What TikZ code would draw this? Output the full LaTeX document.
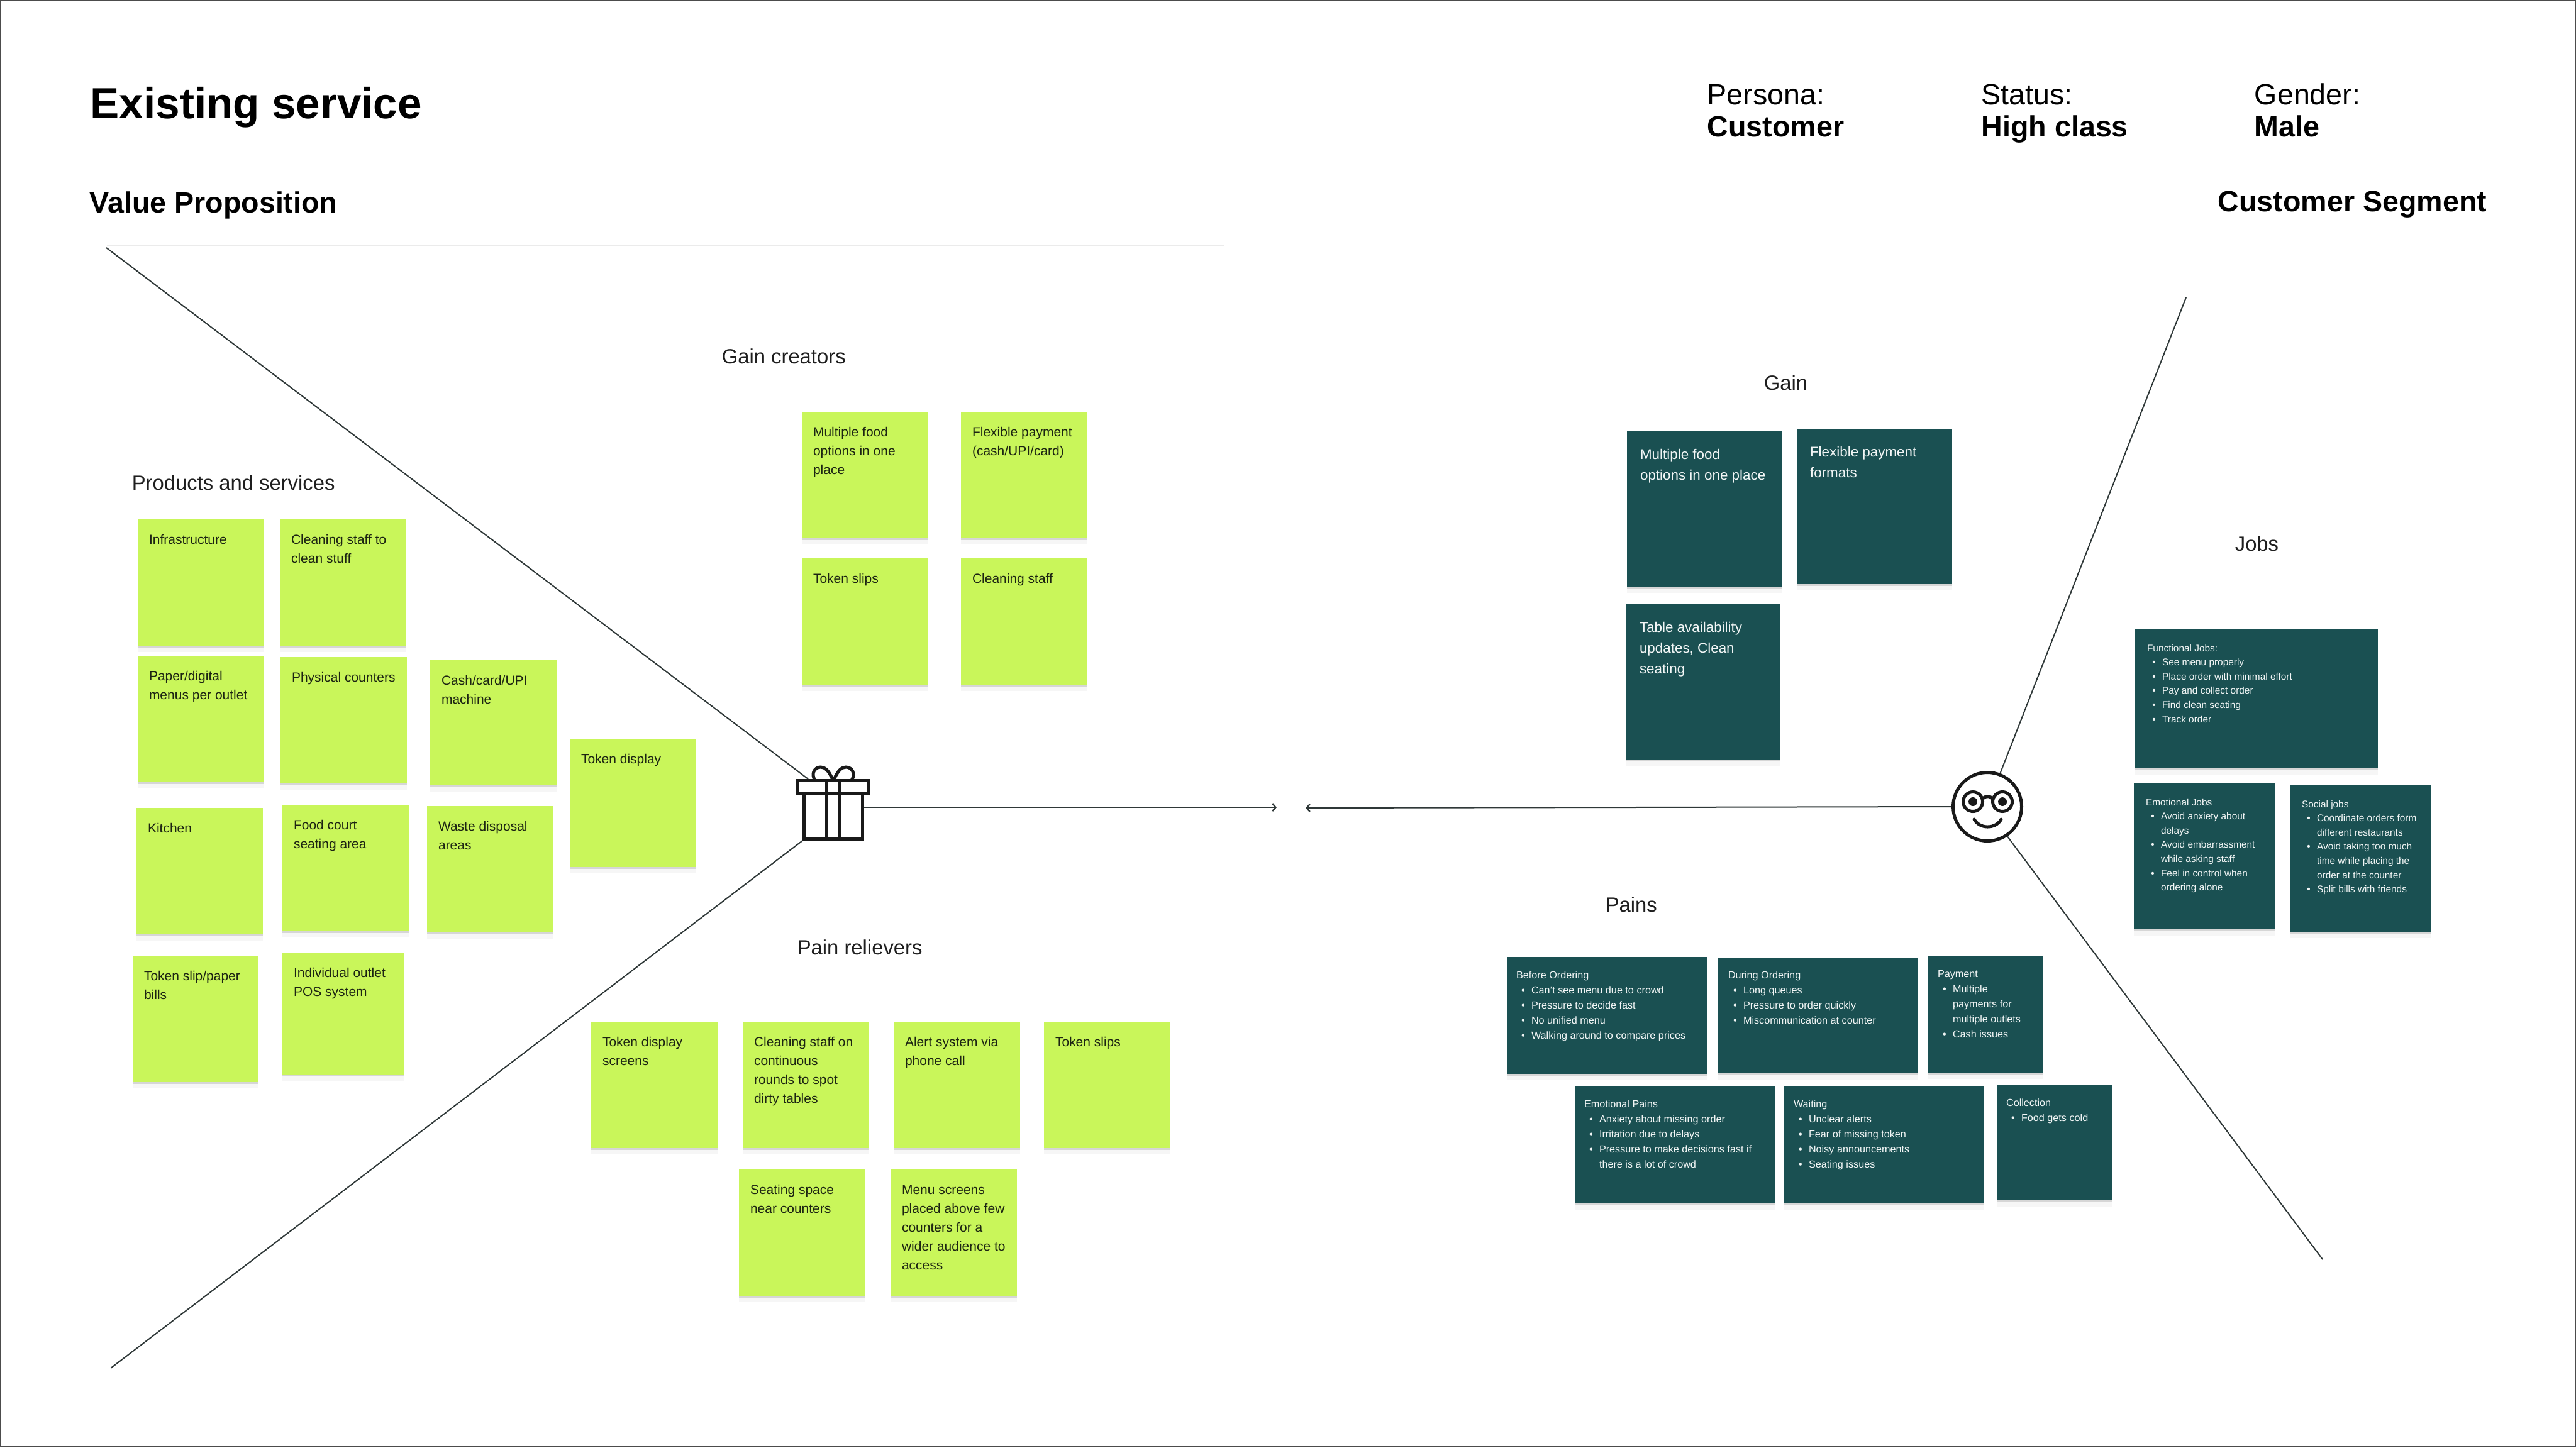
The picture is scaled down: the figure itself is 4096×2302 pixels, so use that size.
\documentclass[tikz,border=0pt]{standalone}
\usepackage{fontspec}
\setmainfont{Liberation Sans}
\usetikzlibrary{arrows.meta,shadows}
\definecolor{lime}{HTML}{C9F65A}
\definecolor{teal}{HTML}{1A5052}
\definecolor{inkdark}{HTML}{1E1E1E}
\definecolor{inkgreen}{HTML}{1C2412}
\definecolor{inklight}{HTML}{F2F6F6}
\definecolor{rule}{HTML}{2F3838}
\newcommand\lineT[1]{\hbox{#1}}
\newcommand\lineB[1]{\hbox{\kern2.75pt\hbox to 0pt{\hss\textbullet\hss}\kern3.25pt #1}}
\newcommand\lineC[1]{\hbox{\kern6pt #1}}
\newcommand\fGreen{\fontsize{5.25}{7.5}\selectfont\color{inkgreen}}
\newcommand\fGain{\fontsize{5.6}{8.25}\selectfont\color{inklight}}
\newcommand\fJobs{\fontsize{3.85}{5.66}\selectfont\color{inklight}}
\newcommand\fPain{\fontsize{4.05}{6.05}\selectfont\color{inklight}}
% style, name, x, y, w, h, dx, dy, font (then \cardBody holds the lines)
\newcommand\cardNote[9]{%
  \node[#1,minimum width=#5*0.25pt,minimum height=#6*0.25pt] (#2) at (#3,#4) {};
  \node[cardtext] (#2t) at ([shift={(#7,#8)}]#2.north west) {#9\vtop{\lineskiplimit=-100pt \cardBody}};
}
\newcommand\green[6]{\def\cardBody{#6}\cardNote{limecard}{#1}{#2}{#3}{#4}{#5}{18}{39}{\fGreen}}
\newcommand\tealcard[9]{\def\cardBody{#9}\cardNote{tealbox}{#1}{#2}{#3}{#4}{#5}{#6}{#7}{#8}}
\tikzset{
  cardbase/.style={rectangle,inner sep=0pt,outer sep=0pt,anchor=north west,
    general shadow={fill=black,opacity=.035,shadow yshift=-2.4pt},
    general shadow={fill=black,opacity=.13,shadow yshift=-.7pt}},
  limecard/.style={cardbase,fill=lime},
  tealbox/.style={cardbase,fill=teal},
  cardtext/.style={anchor=base west,inner sep=0pt,outer sep=0pt},
  heading/.style={anchor=base west,inner sep=0pt,font=\fontsize{11.65}{14}\selectfont\bfseries,text=black},
  plainhead/.style={anchor=base west,inner sep=0pt,font=\fontsize{11.65}{14}\selectfont,text=black},
  section/.style={anchor=base west,inner sep=0pt,font=\fontsize{8.2}{10}\selectfont,text=inkdark},
  wire/.style={draw=rule,line width=.5pt},
  arrowwire/.style={wire,-{Straight Barb[length=1.3pt,width=3pt,line width=.6pt]}},
  icon/.style={draw=black!90,line width=1.25pt,fill=none}
}
\begin{document}
\begin{tikzpicture}[x=0.25pt,y=-0.25pt]
\useasboundingbox (0,0) rectangle (4096,2302);
\draw[draw=black!70,line width=.5pt] (1,1) rectangle (4095,2301);

% titles
\node[anchor=base west,inner sep=0pt,font=\fontsize{17.3}{20}\selectfont\bfseries] (title) at (143,188) {Existing service};
\node[heading] (vp) at (142,338) {Value Proposition};
\node[heading] (cs) at (3526,336) {Customer Segment};
\node[plainhead] (pa) at (2714,166) {Persona:};
\node[heading] (pb) at (2714,217) {Customer};
\node[plainhead] (sa) at (3150,166) {Status:};
\node[heading] (sb) at (3150,217) {High class};
\node[plainhead] (ga) at (3584,166) {Gender:};
\node[heading] (gb) at (3584,217) {Male};

% section labels
\node[section] (lps) at (209,779) {Products and services};
\node[section] (lgc) at (1147,578) {Gain creators};
\node[section] (lpr) at (1267,1518) {Pain relievers};
\node[section] (lgain) at (2804,620) {Gain};
\node[section] (ljobs) at (3553,876) {Jobs};
\node[section] (lpains) at (2552,1450) {Pains};

% hubs
\node[rectangle,inner sep=0pt,outer sep=0pt,minimum width=24.5pt,minimum height=24.5pt] (gift) at (1325,1288) {};
\node[circle,icon,inner sep=0pt,minimum size=27.25pt] (face) at (3160,1283) {};

% free ends
\coordinate (vpTop) at (169,394);
\coordinate (vpBottom) at (176,2176);
\coordinate (vpRuleA) at (170,391);
\coordinate (vpRuleB) at (1946,391);
\coordinate (csTop) at (3476,473);
\coordinate (csBottom) at (3693,2003);
\coordinate (tipR) at (2030,1284);
\coordinate (tipL) at (2076,1285);

% connectors
\draw[draw=black!8,line width=.4pt] (vpRuleA) -- (vpRuleB);
\draw[wire] (vpTop) -- ([xshift=2.25pt]gift.north west);
\draw[wire] (vpBottom) -- (gift.south west);
\draw[arrowwire] ([yshift=1pt]gift.east) -- (tipR);
\draw[arrowwire] (face.west) -- (tipL);
\draw[wire] (face.69) -- (csTop);
\draw[wire] (face.-56) -- (csBottom);

% gift icon
\draw[icon] (1278.5,1261.5) -- (1278.5,1334.5) -- (1371.5,1334.5) -- (1371.5,1261.5);
\draw[icon] (1267.5,1241.5) rectangle (1381.5,1261.5);
\draw[icon] (1314,1241.5) -- (1314,1334.5);
\draw[icon] (1335.5,1241.5) -- (1335.5,1334.5);
\draw[icon] (1324,1240) .. controls (1318,1226) and (1312,1220) .. (1305,1220) .. controls (1295,1220) and (1289,1231) .. (1296,1241);
\draw[icon] (1326,1240) .. controls (1332,1226) and (1338,1220) .. (1345,1220) .. controls (1355,1220) and (1361,1231) .. (1354,1241);

% face icon
\draw[icon] (3137,1275) circle (15.5);
\draw[icon] (3184,1275) circle (15.5);
\fill[black!90] (3137,1275) circle (7);
\fill[black!90] (3184,1275) circle (7);
\draw[icon] (3152,1272) .. controls (3154,1265) and (3167,1265) .. (3169,1272);
\draw[icon,line cap=round] (3139,1303) .. controls (3148,1319) and (3173,1319) .. (3182,1303);

% products and services
\green{p1}{219}{826}{201}{201}{\lineT{Infrastructure}}
\green{p2}{445}{826}{201}{201}{\lineT{Cleaning staff to}\lineT{clean stuff}}
\green{p3}{219}{1043}{201}{201}{\lineT{Paper/digital}\lineT{menus per outlet}}
\green{p4}{446}{1045}{201}{201}{\lineT{Physical counters}}
\green{p5}{684}{1050}{201}{199}{\lineT{Cash/card/UPI}\lineT{machine}}
\green{p6}{906}{1175}{201}{204}{\lineT{Token display}}
\green{p7}{217}{1285}{201}{201}{\lineT{Kitchen}}
\green{p8}{449}{1280}{201}{201}{\lineT{Food court}\lineT{seating area}}
\green{p9}{679}{1282}{201}{201}{\lineT{Waste disposal}\lineT{areas}}
\green{p10}{211}{1520}{200}{201}{\lineT{Token slip/paper}\lineT{bills}}
\green{p11}{449}{1515}{194}{194}{\lineT{Individual outlet}\lineT{POS system}}

% gain creators
\green{g1}{1275}{655}{201}{201}{\lineT{Multiple food}\lineT{options in one}\lineT{place}}
\green{g2}{1528}{655}{201}{201}{\lineT{Flexible payment}\lineT{(cash/UPI/card)}}
\green{g3}{1275}{888}{201}{201}{\lineT{Token slips}}
\green{g4}{1528}{888}{201}{201}{\lineT{Cleaning staff}}

% pain relievers
\green{r1}{940}{1625}{201}{201}{\lineT{Token display}\lineT{screens}}
\green{r2}{1181}{1625}{201}{201}{\lineT{Cleaning staff on}\lineT{continuous}\lineT{rounds to spot}\lineT{dirty tables}}
\green{r3}{1421}{1625}{201}{201}{\lineT{Alert system via}\lineT{phone call}}
\green{r4}{1660}{1625}{201}{201}{\lineT{Token slips}}
\green{r5}{1175}{1860}{201}{201}{\lineT{Seating space}\lineT{near counters}}
\green{r6}{1416}{1860}{201}{201}{\lineT{Menu screens}\lineT{placed above few}\lineT{counters for a}\lineT{wider audience to}\lineT{access}}

% gain
\tealcard{d1}{2587}{686}{247}{247}{21}{44}{\fGain}{\lineT{Multiple food}\lineT{options in one place}}
\tealcard{d2}{2857}{682}{247}{247}{21}{44}{\fGain}{\lineT{Flexible payment}\lineT{formats}}
\tealcard{d3}{2586}{961}{245}{247}{21}{44}{\fGain}{\lineT{Table availability}\lineT{updates, Clean}\lineT{seating}}

% jobs
\tealcard{j1}{3395}{1000}{386}{222}{19}{36}{\fJobs}{\lineT{Functional Jobs:}\lineB{See menu properly}\lineB{Place order with minimal effort}\lineB{Pay and collect order}\lineB{Find clean seating}\lineB{Track order}}
\tealcard{j2}{3393}{1245}{224}{233}{19}{36}{\fJobs}{\lineT{Emotional Jobs}\lineB{Avoid anxiety about}\lineC{delays}\lineB{Avoid embarrassment}\lineC{while asking staff}\lineB{Feel in control when}\lineC{ordering alone}}
\tealcard{j3}{3642}{1248}{223}{234}{18}{36}{\fJobs}{\lineT{Social jobs}\lineB{Coordinate orders form}\lineC{different restaurants}\lineB{Avoid taking too much}\lineC{time while placing the}\lineC{order at the counter}\lineB{Split bills with friends}}

% pains
\tealcard{k1}{2396}{1522}{319}{186}{15}{34}{\fPain}{\lineT{Before Ordering}\lineB{Can't see menu due to crowd}\lineB{Pressure to decide fast}\lineB{No unified menu}\lineB{Walking around to compare prices}}
\tealcard{k2}{2732}{1523}{318}{184}{16}{33}{\fPain}{\lineT{During Ordering}\lineB{Long queues}\lineB{Pressure to order quickly}\lineB{Miscommunication at counter}}
\tealcard{k3}{3066}{1520}{183}{186}{15}{34}{\fPain}{\lineT{Payment}\lineB{Multiple}\lineC{payments for}\lineC{multiple outlets}\lineB{Cash issues}}
\tealcard{k4}{2504}{1728}{318}{186}{15}{33}{\fPain}{\lineT{Emotional Pains}\lineB{Anxiety about missing order}\lineB{Irritation due to delays}\lineB{Pressure to make decisions fast if}\lineC{there is a lot of crowd}}
\tealcard{k5}{2836}{1728}{318}{186}{16}{33}{\fPain}{\lineT{Waiting}\lineB{Unclear alerts}\lineB{Fear of missing token}\lineB{Noisy announcements}\lineB{Seating issues}}
\tealcard{k6}{3175}{1726}{183}{183}{15}{33}{\fPain}{\lineT{Collection}\lineB{Food gets cold}}
\end{tikzpicture}
\end{document}
